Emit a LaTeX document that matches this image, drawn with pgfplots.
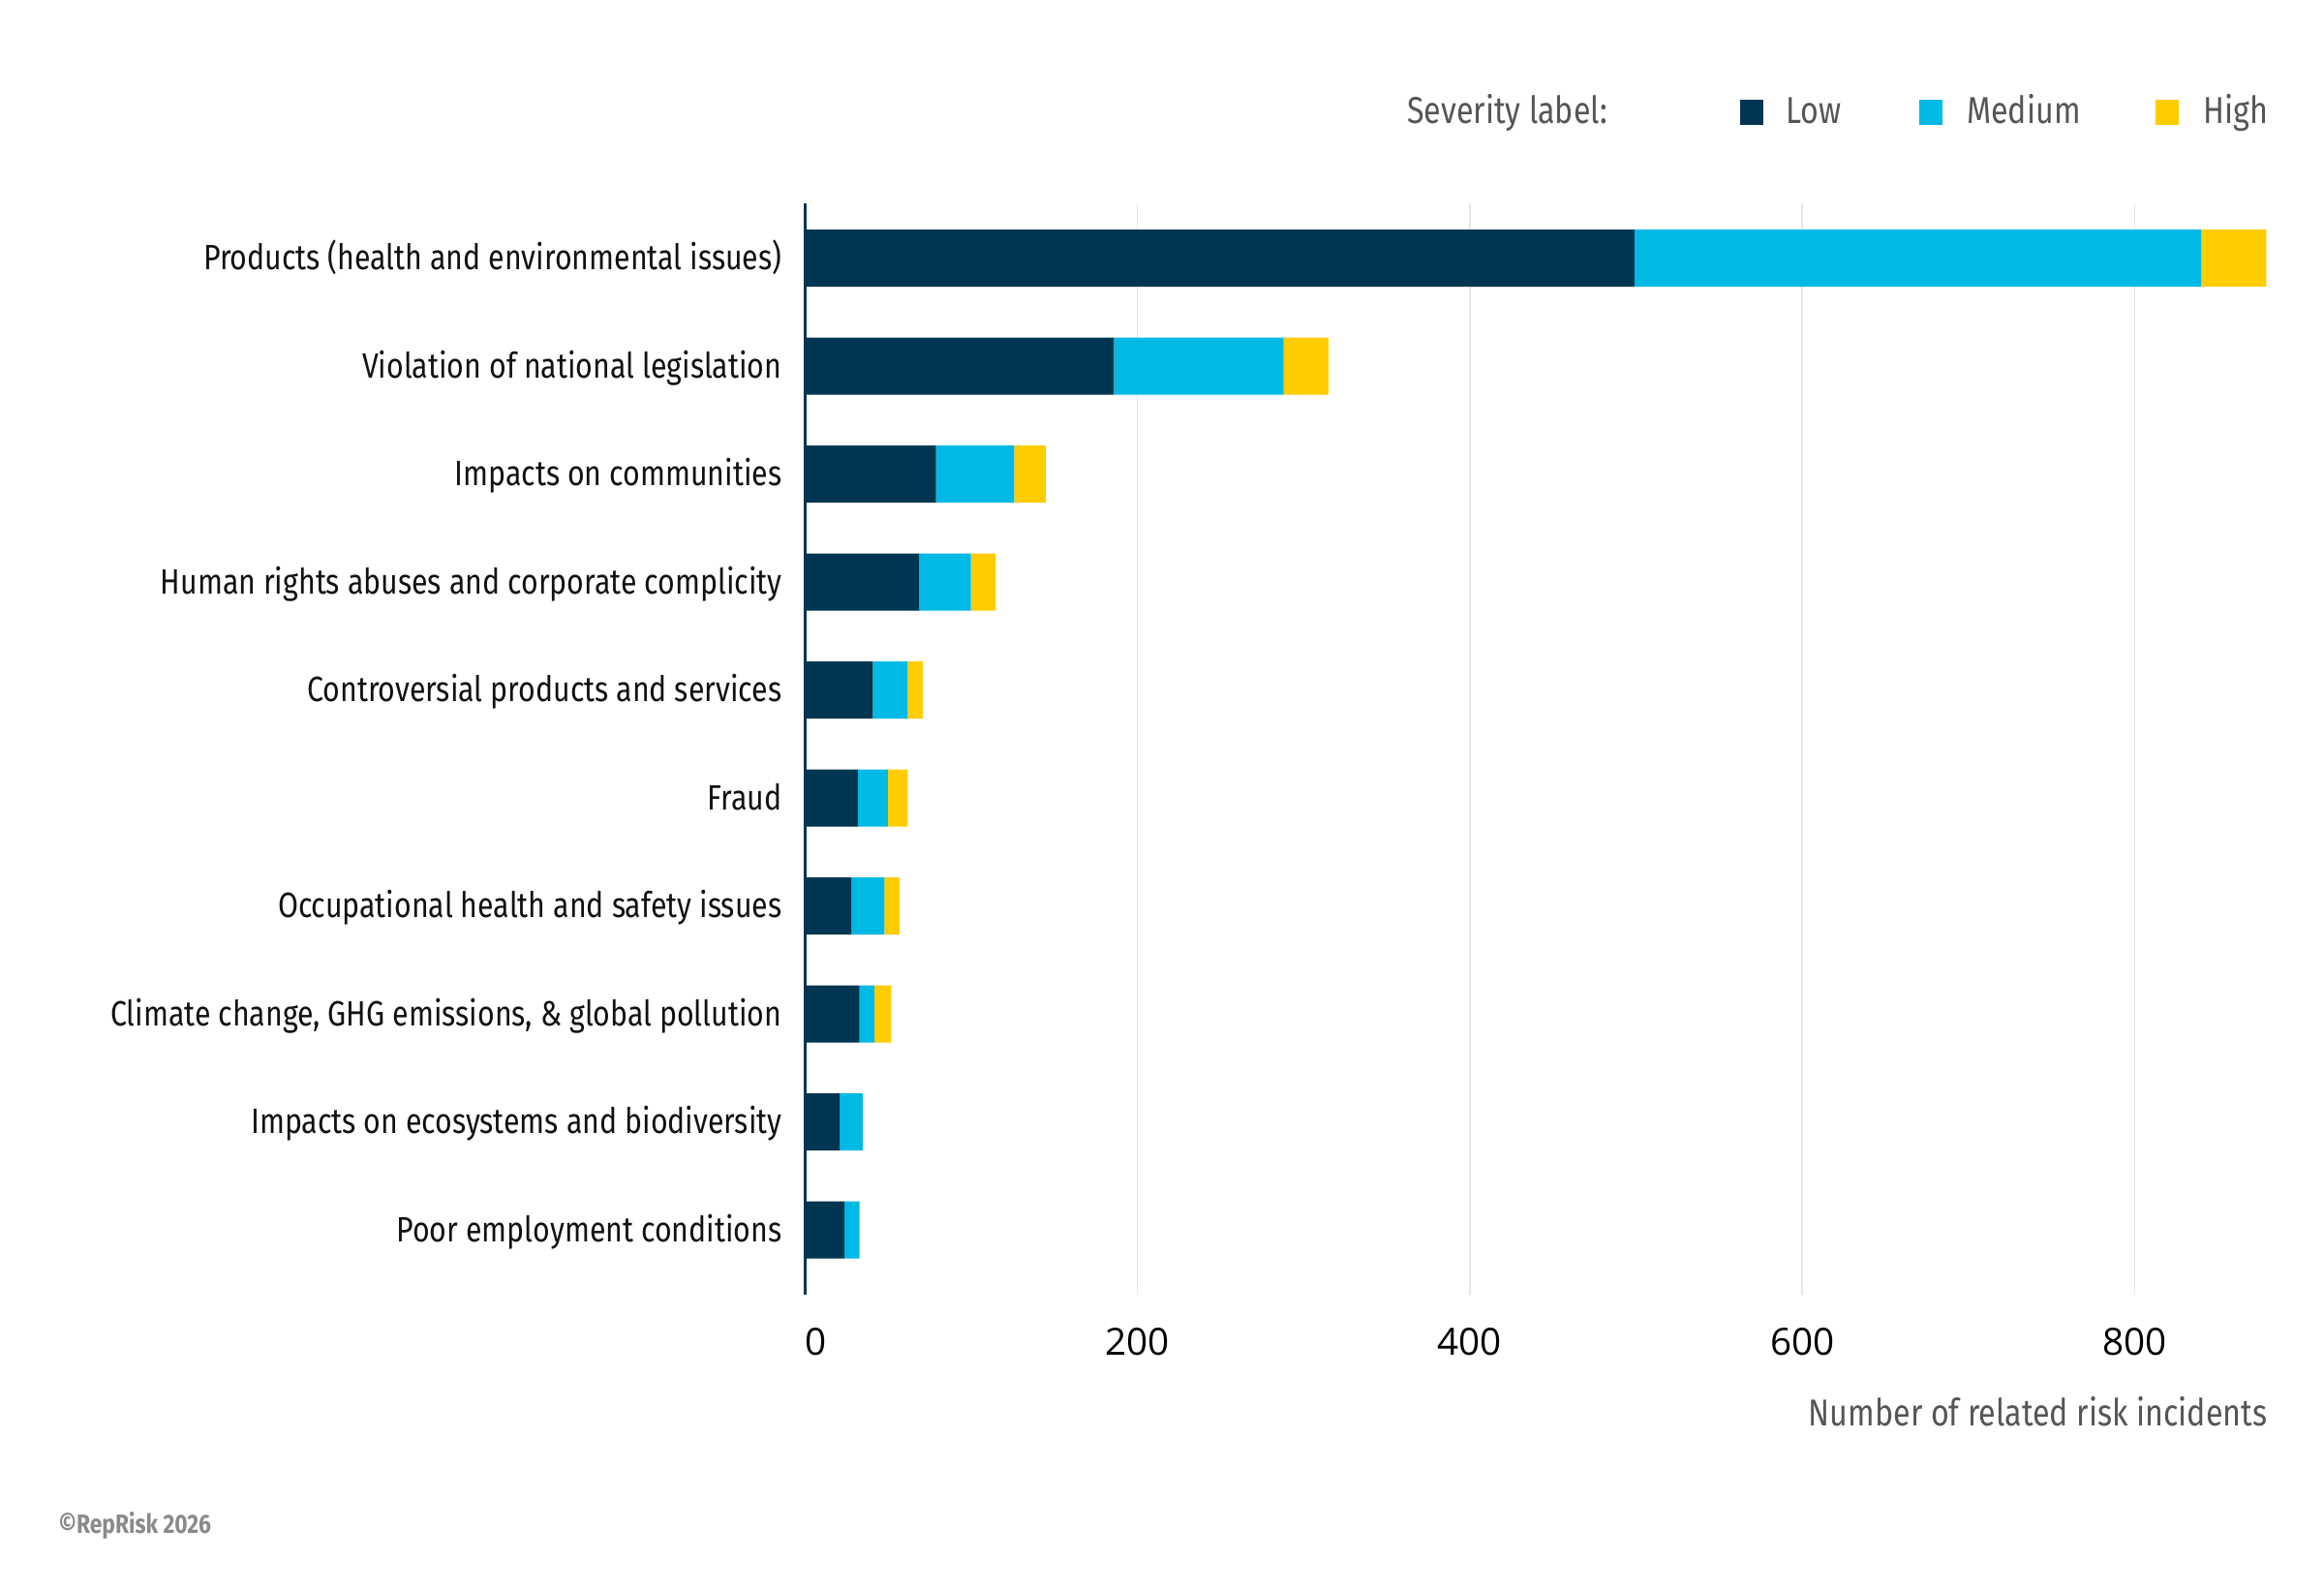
\documentclass[border=0pt]{standalone}
\usepackage{fontspec}
\setmainfont[FakeStretch=0.834]{Fira Sans}
\newfontfamily\tickfont{Open Sans}
\usepackage{pgfplots}
\usepackage{pgfplotstable}
\pgfplotsset{compat=1.18}
\definecolor{lowc}{HTML}{003652}
\definecolor{medc}{HTML}{00B9E4}
\definecolor{highc}{HTML}{FFCC00}
\definecolor{labc}{HTML}{111111}
\definecolor{greyc}{HTML}{555555}
\definecolor{gridc}{HTML}{E6E6E6}
\definecolor{copyc}{HTML}{8A8A8A}

\pgfplotstableread{
idx low med high
0 499 341 39
1 186 102 27
2 79 47 19
3 69 31 15
4 41 21 9
5 32 18 12
6 28 20 9
7 33 9 10
8 21 14 0
9 24 9 0
}\datatable

\pgfplotsset{sqlegend/.style={legend image code/.code={\fill[##1] (0pt,-3.7pt) rectangle (7.2pt,4.2pt);}}}

\begin{document}
\begin{tikzpicture}
\useasboundingbox (0,0) rectangle (720pt,492.6pt);
\node[anchor=base west, inner sep=0pt, font=\bfseries\fontsize{8.2}{9.5}\selectfont, text=copyc] at (18pt,17.7pt) {©RepRisk 2026};
\begin{axis}[
  at={(249.3pt,91.5pt)}, anchor=south west,
  scale only axis, width=453.3pt, height=338.1pt,
  xbar stacked, bar width=17.7pt,
  xmin=0, xmax=880, ymin=-0.507, ymax=9.6, y dir=reverse,
  clip=false,
  axis x line*=bottom, axis y line*=left,
  x axis line style={draw=none},
  y axis line style={draw=lowc, line width=0.9pt, -},
  major tick length=0pt, tick style={draw=none},
  xtick={0,200,400,600,800},
  xticklabels={\makebox[0pt][l]{0},200,400,600,800},
  xmajorgrids, major x grid style={draw=gridc, line width=0.45pt},
  ytick={0,...,9},
  yticklabels={
    Products (health and environmental issues),
    Violation of national legislation,
    Impacts on communities,
    Human rights abuses and corporate complicity,
    Controversial products and services,
    Fraud,
    Occupational health and safety issues,
    {Climate change, GHG emissions, \& global pollution},
    Impacts on ecosystems and biodiversity,
    Poor employment conditions},
  yticklabel style={anchor=base east, inner sep=0pt, xshift=-6.9pt, yshift=-3.6pt,
    font=\fontsize{10.9}{12}\selectfont, text=labc},
  xticklabel style={anchor=base, inner sep=0pt, yshift=-18.6pt,
    font=\tickfont\fontsize{11.6}{13}\selectfont, text=black},
  legend columns=4,
  legend cell align=left,
  legend style={at={(rel axis cs:1,1)}, anchor=north east, yshift=32.9pt,
    draw=none, fill=none, inner sep=0pt, outer sep=0pt,
    font=\fontsize{11.6}{13}\selectfont, text=greyc,
    nodes={inner sep=0pt, text height=8pt, text depth=2pt},
    column sep=0pt},
  legend entries={
    {\makebox[103.2pt][l]{Severity label:}},
    {\makebox[48.3pt][l]{\hspace{6.9pt}Low}},
    {\makebox[66pt][l]{\hspace{7.5pt}Medium}},
    {\hspace{7.5pt}High}},
]
\addlegendimage{empty legend}
\addplot[fill=lowc, draw=none, sqlegend] table[x=low, y=idx]{\datatable};
\addplot[fill=medc, draw=none, sqlegend] table[x=med, y=idx]{\datatable};
\addplot[fill=highc, draw=none, sqlegend] table[x=high, y=idx]{\datatable};
\node[anchor=base east, inner sep=0pt, font=\fontsize{11.6}{13}\selectfont, text=greyc, yshift=-40.5pt] at (rel axis cs:1,0) {Number of related risk incidents};
\end{axis}
\end{tikzpicture}
\end{document}
